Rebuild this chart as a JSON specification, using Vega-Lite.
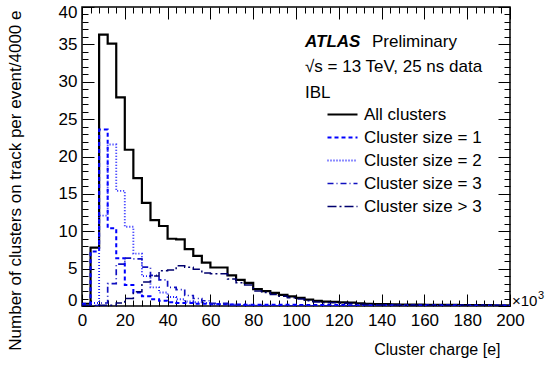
{
  "$schema": "https://vega.github.io/schema/vega-lite/v6.json",
  "width": 428,
  "height": 299,
  "autosize": {"type": "none"},
  "padding": {"left": 82, "top": 7, "right": 37, "bottom": 59},
  "background": "white",
  "config": {
    "font": "Liberation Sans",
    "view": {"stroke": "black", "strokeWidth": 1.5},
    "axis": {
      "grid": false,
      "domain": false,
      "tickColor": "black",
      "tickWidth": 1,
      "labelFont": "Liberation Sans",
      "labelFontSize": 17,
      "labelColor": "black",
      "labelOverlap": false,
      "labelFlush": false,
      "titleFont": "Liberation Sans",
      "titleFontWeight": "normal",
      "titleColor": "black"
    }
  },
  "datasets": {
    "h": [
      {"k": 0, "all": 0.3, "s1": 0.3, "s2": 0, "s3": 0, "s4": 0},
      {"k": 4, "all": 7.8, "s1": 7.3, "s2": 0.4, "s3": 0.05, "s4": 0},
      {"k": 8, "all": 36.3, "s1": 23.6, "s2": 12.1, "s3": 0.4, "s4": 0.1},
      {"k": 12, "all": 35.1, "s1": 10.4, "s2": 21.6, "s3": 3.0, "s4": 0.1},
      {"k": 16, "all": 27.9, "s1": 6.4, "s2": 15.4, "s3": 5.6, "s4": 0.4},
      {"k": 20, "all": 20.9, "s1": 2.8, "s2": 10.6, "s3": 6.4, "s4": 1.0},
      {"k": 24, "all": 17.1, "s1": 1.8, "s2": 7.0, "s3": 6.3, "s4": 1.9},
      {"k": 28, "all": 13.8, "s1": 1.3, "s2": 4.0, "s3": 5.2, "s4": 3.2},
      {"k": 32, "all": 11.5, "s1": 0.9, "s2": 2.5, "s3": 4.1, "s4": 4.0},
      {"k": 36, "all": 10.7, "s1": 0.7, "s2": 1.8, "s3": 3.5, "s4": 4.7},
      {"k": 40, "all": 9.0, "s1": 0.5, "s2": 1.2, "s3": 2.5, "s4": 4.8},
      {"k": 44, "all": 8.9, "s1": 0.4, "s2": 0.9, "s3": 2.2, "s4": 5.4},
      {"k": 48, "all": 7.6, "s1": 0.4, "s2": 0.6, "s3": 1.4, "s4": 5.2},
      {"k": 52, "all": 6.7, "s1": 0.3, "s2": 0.5, "s3": 1.0, "s4": 4.9},
      {"k": 56, "all": 5.8, "s1": 0.3, "s2": 0.4, "s3": 0.7, "s4": 4.4},
      {"k": 60, "all": 5.15, "s1": 0.25, "s2": 0.25, "s3": 0.35, "s4": 4.3},
      {"k": 64, "all": 5.15, "s1": 0.25, "s2": 0.25, "s3": 0.35, "s4": 4.3},
      {"k": 68, "all": 4.1, "s1": 0.2, "s2": 0.2, "s3": 0.1, "s4": 3.6},
      {"k": 72, "all": 3.5, "s1": 0.2, "s2": 0.1, "s3": 0.1, "s4": 3.1},
      {"k": 76, "all": 3.1, "s1": 0.15, "s2": 0.1, "s3": 0.05, "s4": 2.8},
      {"k": 80, "all": 2.25, "s1": 0.15, "s2": 0.05, "s3": 0.05, "s4": 2.0},
      {"k": 84, "all": 2.0, "s1": 0.15, "s2": 0.05, "s3": 0.03, "s4": 1.8},
      {"k": 88, "all": 1.75, "s1": 0.15, "s2": 0.03, "s3": 0.02, "s4": 1.55},
      {"k": 92, "all": 1.5, "s1": 0.15, "s2": 0.03, "s3": 0.02, "s4": 1.3},
      {"k": 96, "all": 1.3, "s1": 0.15, "s2": 0.02, "s3": 0.02, "s4": 1.1},
      {"k": 100, "all": 1.1, "s1": 0.12, "s2": 0.02, "s3": 0.01, "s4": 0.95},
      {"k": 104, "all": 0.85, "s1": 0.12, "s2": 0.02, "s3": 0.01, "s4": 0.7},
      {"k": 108, "all": 0.68, "s1": 0.12, "s2": 0.01, "s3": 0.01, "s4": 0.55},
      {"k": 112, "all": 0.58, "s1": 0.12, "s2": 0.01, "s3": 0.01, "s4": 0.45},
      {"k": 116, "all": 0.54, "s1": 0.12, "s2": 0.01, "s3": 0, "s4": 0.42},
      {"k": 120, "all": 0.48, "s1": 0.12, "s2": 0.01, "s3": 0, "s4": 0.36},
      {"k": 124, "all": 0.45, "s1": 0.11, "s2": 0, "s3": 0, "s4": 0.34},
      {"k": 128, "all": 0.35, "s1": 0.11, "s2": 0, "s3": 0, "s4": 0.24},
      {"k": 132, "all": 0.3, "s1": 0.1, "s2": 0, "s3": 0, "s4": 0.2},
      {"k": 136, "all": 0.26, "s1": 0.1, "s2": 0, "s3": 0, "s4": 0.16},
      {"k": 140, "all": 0.24, "s1": 0.1, "s2": 0, "s3": 0, "s4": 0.14},
      {"k": 144, "all": 0.22, "s1": 0.1, "s2": 0, "s3": 0, "s4": 0.12},
      {"k": 148, "all": 0.2, "s1": 0.1, "s2": 0, "s3": 0, "s4": 0.1},
      {"k": 152, "all": 0.19, "s1": 0.1, "s2": 0, "s3": 0, "s4": 0.09},
      {"k": 156, "all": 0.18, "s1": 0.1, "s2": 0, "s3": 0, "s4": 0.08},
      {"k": 160, "all": 0.17, "s1": 0.1, "s2": 0, "s3": 0, "s4": 0.07},
      {"k": 164, "all": 0.16, "s1": 0.1, "s2": 0, "s3": 0, "s4": 0.06},
      {"k": 168, "all": 0.15, "s1": 0.09, "s2": 0, "s3": 0, "s4": 0.06},
      {"k": 172, "all": 0.14, "s1": 0.09, "s2": 0, "s3": 0, "s4": 0.05},
      {"k": 176, "all": 0.13, "s1": 0.08, "s2": 0, "s3": 0, "s4": 0.05},
      {"k": 180, "all": 0.12, "s1": 0.08, "s2": 0, "s3": 0, "s4": 0.04},
      {"k": 184, "all": 0.12, "s1": 0.08, "s2": 0, "s3": 0, "s4": 0.04},
      {"k": 188, "all": 0.11, "s1": 0.07, "s2": 0, "s3": 0, "s4": 0.04},
      {"k": 192, "all": 0.1, "s1": 0.07, "s2": 0, "s3": 0, "s4": 0.03},
      {"k": 196, "all": 0.1, "s1": 0.07, "s2": 0, "s3": 0, "s4": 0.03},
      {"k": 200, "all": 0.1, "s1": 0.07, "s2": 0, "s3": 0, "s4": 0.03}
    ]
  },
  "layer": [
    {
      "data": {"name": "h"},
      "transform": [{"fold": ["all", "s1", "s2", "s3", "s4"], "as": ["series", "value"]}],
      "mark": {"type": "line", "interpolate": "step-after", "clip": true},
      "encoding": {
        "x": {
          "field": "k", "type": "quantitative",
          "scale": {"domain": [0, 200], "nice": false, "zero": false},
          "axis": {
            "orient": "bottom",
            "values": [0,4,8,12,16,20,24,28,32,36,40,44,48,52,56,60,64,68,72,76,80,84,88,92,96,100,104,108,112,116,120,124,128,132,136,140,144,148,152,156,160,164,168,172,176,180,184,188,192,196,200],
            "labelExpr": "datum.value % 20 === 0 ? datum.label : ''",
            "tickSize": {"condition": {"test": "datum.value % 20 === 0", "value": -12}, "value": -6},
            "labelPadding": 18,
            "title": "Cluster charge [e]",
            "titleFontSize": 16,
            "titleAnchor": "end",
            "titleAlign": "right",
            "titleBaseline": "alphabetic",
            "titleX": 418,
            "titleY": 48
          }
        },
        "y": {
          "field": "value", "type": "quantitative",
          "scale": {"domain": [0, 40], "nice": false},
          "axis": {
            "orient": "left",
            "values": [0,1,2,3,4,5,6,7,8,9,10,11,12,13,14,15,16,17,18,19,20,21,22,23,24,25,26,27,28,29,30,31,32,33,34,35,36,37,38,39,40],
            "labelExpr": "datum.value % 5 === 0 ? datum.label : ''",
            "tickSize": {"condition": {"test": "datum.value % 5 === 0", "value": -12}, "value": -6},
            "labelPadding": 17,
            "labelFlush": true,
            "labelFlushOffset": 3,
            "title": "Number of clusters on track per event/4000 e",
            "titleFontSize": 17,
            "titleAnchor": "end",
            "titleAngle": -90,
            "titleAlign": "right",
            "titleBaseline": "alphabetic",
            "titleX": -62,
            "titleY": 3
          }
        },
        "color": {
          "field": "series", "type": "nominal",
          "scale": {"domain": ["all", "s1", "s2", "s3", "s4"], "range": ["#000000", "#0000ff", "#1a1aff", "#1010c0", "#00006e"]},
          "legend": {
            "title": null,
            "orient": "none",
            "legendX": 252,
            "legendY": 99,
            "padding": 0,
            "symbolType": "M-3,0H3",
            "symbolSize": 100,
            "labelFontSize": 17,
            "labelFont": "Liberation Sans",
            "labelColor": "black",
            "labelOffset": 13,
            "rowPadding": 5,
            "labelExpr": "{'all': 'All clusters', 's1': 'Cluster size = 1', 's2': 'Cluster size = 2', 's3': 'Cluster size = 3', 's4': 'Cluster size > 3'}[datum.label]"
          }
        },
        "strokeDash": {
          "field": "series", "type": "nominal",
          "scale": {"domain": ["all", "s1", "s2", "s3", "s4"], "range": [[1, 0], [4, 3], [1, 2], [6, 3, 1, 3], [9, 3, 2, 3]]},
          "legend": {
            "title": null,
            "orient": "none",
            "legendX": 252,
            "legendY": 99,
            "padding": 0,
            "symbolType": "M-3,0H3",
            "symbolSize": 100,
            "labelFontSize": 17,
            "labelFont": "Liberation Sans",
            "labelColor": "black",
            "labelOffset": 13,
            "rowPadding": 5,
            "labelExpr": "{'all': 'All clusters', 's1': 'Cluster size = 1', 's2': 'Cluster size = 2', 's3': 'Cluster size = 3', 's4': 'Cluster size > 3'}[datum.label]"
          }
        },
        "strokeWidth": {
          "field": "series", "type": "nominal",
          "scale": {"domain": ["all", "s1", "s2", "s3", "s4"], "range": [2.2, 1.5, 1.5, 1.5, 1.5]},
          "legend": null
        }
      }
    },
    {
      "data": {"name": "h"},
      "mark": {"type": "line", "opacity": 0},
      "encoding": {
        "x": {
          "field": "k", "type": "quantitative",
          "axis": {
            "orient": "top",
            "values": [0,4,8,12,16,20,24,28,32,36,40,44,48,52,56,60,64,68,72,76,80,84,88,92,96,100,104,108,112,116,120,124,128,132,136,140,144,148,152,156,160,164,168,172,176,180,184,188,192,196,200],
            "labels": false,
            "tickSize": {"condition": {"test": "datum.value % 20 === 0", "value": -12}, "value": -6},
            "title": null
          }
        },
        "y": {
          "field": "all", "type": "quantitative",
          "axis": {
            "orient": "right",
            "values": [0,1,2,3,4,5,6,7,8,9,10,11,12,13,14,15,16,17,18,19,20,21,22,23,24,25,26,27,28,29,30,31,32,33,34,35,36,37,38,39,40],
            "labels": false,
            "tickSize": {"condition": {"test": "datum.value % 5 === 0", "value": -12}, "value": -6},
            "title": null
          }
        }
      }
    },
    {
      "data": {"values": [{"x": 104.2, "y": 34.65, "txt": "ATLAS"}]},
      "mark": {"type": "text", "align": "left", "baseline": "alphabetic", "fontSize": 17, "fontWeight": "bold", "fontStyle": "italic", "font": "Liberation Sans", "color": "black"},
      "encoding": {
        "x": {"field": "x", "type": "quantitative", "axis": null},
        "y": {"field": "y", "type": "quantitative", "axis": null},
        "text": {"field": "txt"}
      }
    },
    {
      "data": {"values": [
        {"x": 135.5, "y": 34.65, "txt": "Preliminary"},
        {"x": 104.2, "y": 31.3, "txt": "√s = 13 TeV, 25 ns data"},
        {"x": 104.2, "y": 27.8, "txt": "IBL"}
      ]},
      "mark": {"type": "text", "align": "left", "baseline": "alphabetic", "fontSize": 17, "font": "Liberation Sans", "color": "black"},
      "encoding": {
        "x": {"field": "x", "type": "quantitative", "axis": null},
        "y": {"field": "y", "type": "quantitative", "axis": null},
        "text": {"field": "txt"}
      }
    },
    {
      "data": {"values": [{"x": 200, "y": 0, "txt": "×10"}]},
      "mark": {"type": "text", "align": "left", "baseline": "alphabetic", "fontSize": 15, "dx": 2, "font": "Liberation Sans", "color": "black"},
      "encoding": {
        "x": {"field": "x", "type": "quantitative", "axis": null},
        "y": {"field": "y", "type": "quantitative", "axis": null},
        "text": {"field": "txt"}
      }
    },
    {
      "data": {"values": [{"x": 200, "y": 0, "txt": "3"}]},
      "mark": {"type": "text", "align": "left", "baseline": "alphabetic", "fontSize": 11, "dx": 28, "dy": -7, "font": "Liberation Sans", "color": "black"},
      "encoding": {
        "x": {"field": "x", "type": "quantitative", "axis": null},
        "y": {"field": "y", "type": "quantitative", "axis": null},
        "text": {"field": "txt"}
      }
    }
  ],
  "resolve": {"axis": {"x": "independent", "y": "independent"}}
}
